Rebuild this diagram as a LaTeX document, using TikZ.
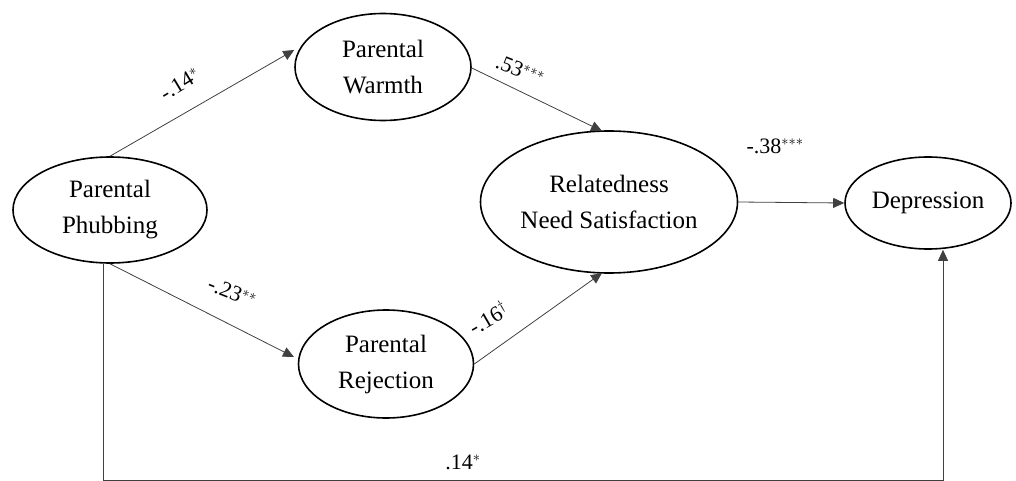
\documentclass[tikz,border=0pt]{standalone}
\usepackage{fontspec}
\setmainfont{Liberation Serif}
\usetikzlibrary{shapes.geometric,arrows.meta}
\begin{document}
\begin{tikzpicture}[x=1pt,y=-1pt,
  latent/.style={draw=black,line width=1.6pt,ellipse,inner sep=0pt,align=center,
    font=\fontsize{25}{36}\selectfont},
  path/.style={draw=black!75,line width=0.8pt,-{Triangle[length=11pt,width=10pt]}},
  coef/.style={font=\fontsize{22}{24}\selectfont,inner sep=1pt}]
\useasboundingbox (0,0) rectangle (1016,481);
\node[latent,minimum width=194pt,minimum height=106pt] (pp) at (110,210) {Parental\\Phubbing};
\node[latent,minimum width=176pt,minimum height=107pt] (pw) at (383,67) {Parental\\Warmth};
\node[latent,minimum width=175pt,minimum height=108pt] (pr) at (386,364) {Parental\\Rejection};
\node[latent,minimum width=257pt,minimum height=142pt] (rn) at (609,202) {Relatedness\\Need Satisfaction};
\node[latent,minimum width=166pt,minimum height=92pt] (dp) at (928,203) {Depression};
\coordinate (c1) at (103,480);
\coordinate (c2) at (943,480);
\draw[path] (pp.north) -- (pw.west |- 0,50) ;
\draw[path] (pw.east) ++(0,1) -- (602,131);
\draw[path] (pp.south) -- (294,357);
\draw[path] (pr.east) -- (602,273);
\draw[path] (rn.east) -- (dp.west);
\draw[path] (pp.south -| c1) -- (c1) -- (c2) -- (c2 |- dp.south);
\node[coef,rotate=31] at (180,84) {-.14$^{*}$};
\node[coef,rotate=-22] at (520,70) {.53$^{***}$};
\node[coef,rotate=-22] at (232,292) {-.23$^{**}$};
\node[coef,rotate=30] at (488,318) {-.16$^{\dagger}$};
\node[coef] at (775,146) {-.38$^{***}$};
\node[coef] at (463,462) {.14$^{*}$};
\end{tikzpicture}
\end{document}
